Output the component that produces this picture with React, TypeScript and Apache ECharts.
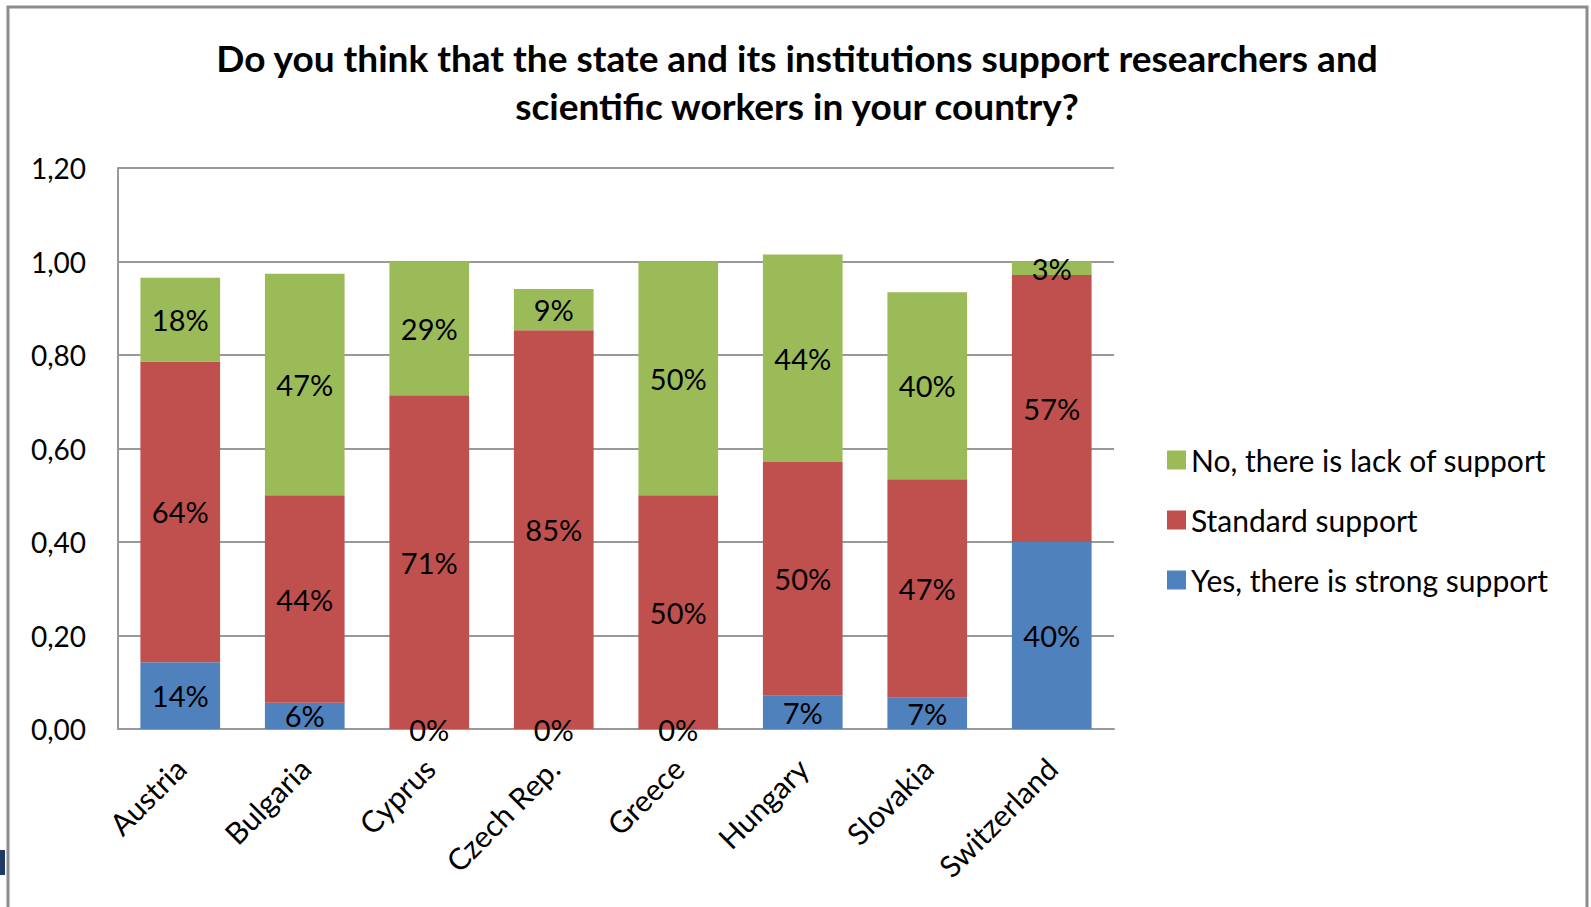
import React, { useEffect, useRef } from "react";
import * as echarts from "echarts";

const categories = ["Austria", "Bulgaria", "Cyprus", "Czech Rep.", "Greece", "Hungary", "Slovakia", "Switzerland"];
const strongSupport = [0.143, 0.056, 0, 0, 0, 0.071, 0.067, 0.4];
const standardSupport = [0.643, 0.444, 0.714, 0.853, 0.5, 0.5, 0.467, 0.571];
const lackOfSupport = [0.179, 0.474, 0.286, 0.088, 0.5, 0.444, 0.4, 0.029];
const seriesNames = ["Yes, there is strong support", "Standard support", "No, there is lack of support"];
const legendOrder = ["No, there is lack of support", "Standard support", "Yes, there is strong support"];
const titleText = "Do you think that the state and its institutions support researchers and\nscientific workers in your country?";

const FONT = "Lato, 'Liberation Sans', sans-serif";

export default function App() {
  const ref = useRef<HTMLDivElement>(null);
  useEffect(() => {
    if (!ref.current) return;
    const chart = echarts.init(ref.current, null, { renderer: "svg" });
    const label = {
      show: true,
      position: "inside",
      color: "#000",
      fontFamily: FONT,
      fontSize: 29,
      formatter: (p: any) => Math.round(p.value * 100) + "%",
    };
    const mk = (name: string, data: number[], color: string) => ({
      name,
      type: "bar",
      stack: "total",
      data,
      barWidth: "64%",
      itemStyle: { color },
      label,
    });
    chart.setOption({
      animation: false,
      backgroundColor: "#fff",
      title: {
        text: titleText,
        left: 797,
        top: 33,
        padding: 0,
        textAlign: "center",
        textStyle: { fontFamily: FONT, fontWeight: "bold", fontSize: 37, lineHeight: 48, color: "#000" },
      },
      legend: {
        data: legendOrder,
        orient: "vertical",
        left: 1162,
        top: 440,
        itemWidth: 19,
        itemHeight: 19,
        itemGap: 30,
        icon: "rect",
        textStyle: { fontFamily: FONT, fontSize: 30, color: "#000", lineHeight: 30 },
      },
      grid: { left: 118, top: 168, width: 996, bottom: 178 },
      xAxis: {
        type: "category",
        data: categories,
        axisLine: { lineStyle: { color: "#999", width: 2 } },
        axisTick: { show: false },
        axisLabel: { rotate: 45, margin: 34, fontFamily: FONT, fontSize: 30, color: "#000" },
      },
      yAxis: {
        type: "value",
        min: 0,
        max: 1.2,
        interval: 0.2,
        axisLine: { show: true, lineStyle: { color: "#999", width: 2 } },
        axisTick: { show: false },
        splitLine: { lineStyle: { color: "#999", width: 2 } },
        axisLabel: {
          margin: 32,
          fontFamily: FONT,
          fontSize: 28,
          color: "#000",
          formatter: (v: number) => v.toFixed(2).replace(".", ","),
        },
      },
      graphic: [
        {
          type: "rect",
          shape: { x: 8, y: 7, width: 1579, height: 1000 },
          style: { fill: "none", stroke: "#8c8c8c", lineWidth: 3 },
          silent: true,
        },
        {
          type: "rect",
          shape: { x: 0, y: 850, width: 5, height: 25 },
          style: { fill: "#1f3864" },
          silent: true,
        },
      ],
      series: [
        mk(seriesNames[0], strongSupport, "#4F81BD"),
        mk(seriesNames[1], standardSupport, "#C0504D"),
        mk(seriesNames[2], lackOfSupport, "#9BBB59"),
      ],
    });
    return () => chart.dispose();
  }, []);
  return <div ref={ref} style={{ position: "fixed", left: 0, top: 0, width: 1591, height: 907 }} />;
}
